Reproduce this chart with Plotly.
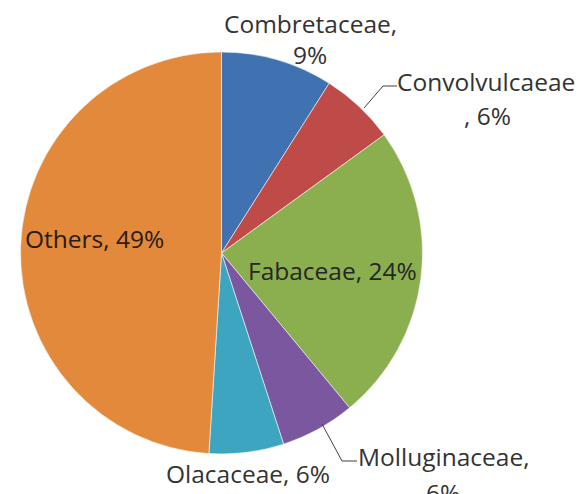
import plotly.graph_objects as go

W, H = 578, 494

labels = ["Combretaceae", "Convolvulcaeae", "Fabaceae", "Molluginaceae", "Olacaceae", "Others"]
values = [9, 6, 24, 6, 6, 49]
colors = ["#4071B0", "#BE4B48", "#8BAF4E", "#7A579F", "#3EA5C1", "#E2893C"]

FONT = "Open Sans"
FS = 24.5


def px(x):
    return x / W


def py(y):
    return 1 - y / H


def lab(i):
    return f"{labels[i]}, {values[i]}%"


fig = go.Figure()
fig.add_trace(go.Pie(
    labels=labels,
    values=values,
    sort=False,
    direction="clockwise",
    rotation=0,
    marker=dict(colors=colors, line=dict(color="rgba(255,255,255,0.55)", width=1)),
    textinfo="none",
    showlegend=False,
    hoverinfo="label+value",
    domain=dict(x=[px(20.5), px(422.5)], y=[py(454), py(52)]),
))

# (text, x, y, xanchor, colour)
texts = [
    (f"{labels[0]},", 310, 23, "center", "#333333"),
    (f"{values[0]}%", 310, 54, "center", "#333333"),
    (labels[1], 395, 81, "left", "#333333"),
    (f", {values[1]}%", 488, 115, "center", "#333333"),
    (lab(2), 332, 270, "center", "#262626"),
    (f"{labels[3]},", 444, 456, "center", "#333333"),
    (f"{values[3]}%", 443, 492, "center", "#333333"),
    (lab(4), 248, 473, "center", "#333333"),
    (lab(5), 94, 238, "center", "#2a1a10"),
]
for t, x, y, xa, c in texts:
    fig.add_annotation(
        x=px(x), y=py(y), xref="paper", yref="paper",
        text=t, showarrow=False,
        xanchor=xa, yanchor="middle", align="center",
        font=dict(family=FONT, size=FS, color=c),
    )

# leader lines
fig.add_shape(type="path", xref="paper", yref="paper",
              path=f"M {px(364)} {py(108)} L {px(383)} {py(86)} L {px(397)} {py(86)}",
              line=dict(color="#404040", width=1))
fig.add_shape(type="path", xref="paper", yref="paper",
              path=f"M {px(322)} {py(424)} L {px(342)} {py(461)} L {px(357)} {py(461)}",
              line=dict(color="#404040", width=1))

fig.update_layout(
    width=W, height=H,
    margin=dict(l=0, r=0, t=0, b=0),
    paper_bgcolor="white",
    plot_bgcolor="white",
)

fig.write_html("out.html", config={"displayModeBar": False},
               post_script="document.body.style.margin='0';")
